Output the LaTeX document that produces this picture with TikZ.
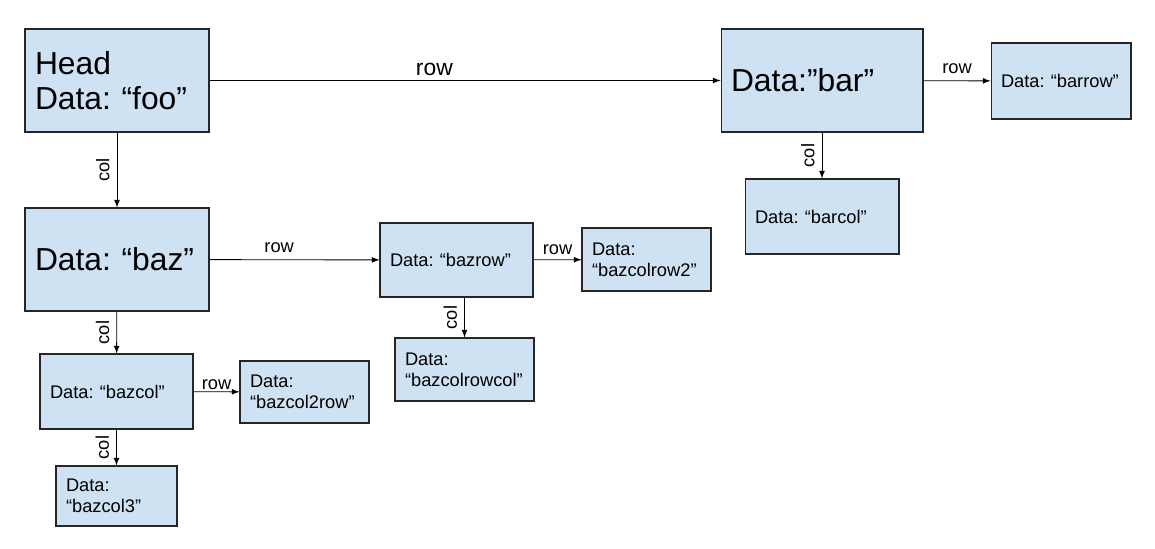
\documentclass[tikz,border=0pt]{standalone}
\usepackage{fontspec}
\setmainfont{Liberation Sans}
\definecolor{cellblue}{HTML}{CFE2F3}
\frenchspacing

\begin{document}
\begin{tikzpicture}[>=latex,x=0.02cm,y=-0.02cm]
	\tikzstyle{cell}=[rectangle,draw=black!85,line width=0.6pt,fill=cellblue,align=left,inner xsep=0.2cm,inner ysep=0pt,execute at begin node={\hyphenpenalty=10000}]
	\tikzstyle{big}=[font=\fontsize{18.1pt}{19.9pt}\selectfont]
	\tikzstyle{small}=[font=\fontsize{10.4pt}{11.9pt}\selectfont]
	\tikzstyle{link}=[->,draw=black,line width=0.5pt]
	\tikzstyle{lbl}=[font=\fontsize{10.4pt}{10.4pt}\selectfont,inner sep=2.5pt]
	\tikzstyle{vlbl}=[lbl,rotate=90,anchor=south,inner sep=4pt]

	\useasboundingbox (0,0) rectangle (1155,548);

	\node[cell,big,text width=3.28cm,minimum height=2.06cm] (HD) at (117,80.5) {Head\\Data: “foo”};
	\node[cell,big,text width=3.64cm,minimum height=2.06cm] (BAR) at (822,80.5) {Data:”bar”};
	\node[cell,small,text width=2.4cm,minimum height=1.52cm] (BARR) at (1061,81) {Data: “barrow”};
	\node[cell,small,text width=2.68cm,minimum height=1.5cm] (BARC) at (822,216.5) {Data: “barcol”};

	\node[cell,big,text width=3.28cm,minimum height=2.06cm] (BAZ) at (117,259.5) {Data: “baz”};
	\node[cell,small,text width=2.66cm,minimum height=1.48cm] (BZR) at (456.5,260) {Data: “bazrow”};
	\node[cell,small,text width=2.18cm,minimum height=1.26cm] (BZRR) at (646.5,259.5) {Data:\\“bazcolrow2”};
	\node[cell,small,text width=2.38cm,minimum height=1.26cm] (BZRC) at (464.5,369.5) {Data:\\“bazcolrowcol”};

	\node[cell,small,text width=2.66cm,minimum height=1.5cm] (BZC) at (116.5,391.5) {Data: “bazcol”};
	\node[cell,small,text width=2.18cm,minimum height=1.24cm] (BZCR) at (304.5,392) {Data:\\“bazcol2row”};
	\node[cell,small,text width=2.02cm,minimum height=1.2cm] (BZCC) at (116.5,496) {Data:\\“bazcol3”};

	\path (HD) edge[link] node[lbl,above,pos=0.44,font=\fontsize{13pt}{13pt}\selectfont]{row} (BAR);
	\path (HD) edge[link] node[vlbl]{col} (BAZ);
	\path (BAR) edge[link] node[lbl,above,inner sep=4pt]{row} (BARR);
	\path (BAR) edge[link] node[vlbl]{col} (BARC);

	\path (BAZ) edge[link] node[lbl,above,pos=0.41,inner sep=4pt]{row} (BZR);
	\path (BZR) edge[link] node[lbl,above]{row} (BZRR);
	\path (BZR.south -| BZRC.north) edge[link] node[vlbl]{col} (BZRC.north);

	\path (BAZ) edge[link] node[vlbl]{col} (BZC);
	\path (BZC) edge[link] node[lbl,above,inner sep=1pt]{row} (BZCR);
	\path (BZC) edge[link] node[vlbl]{col} (BZCC);
\end{tikzpicture}
\end{document}
